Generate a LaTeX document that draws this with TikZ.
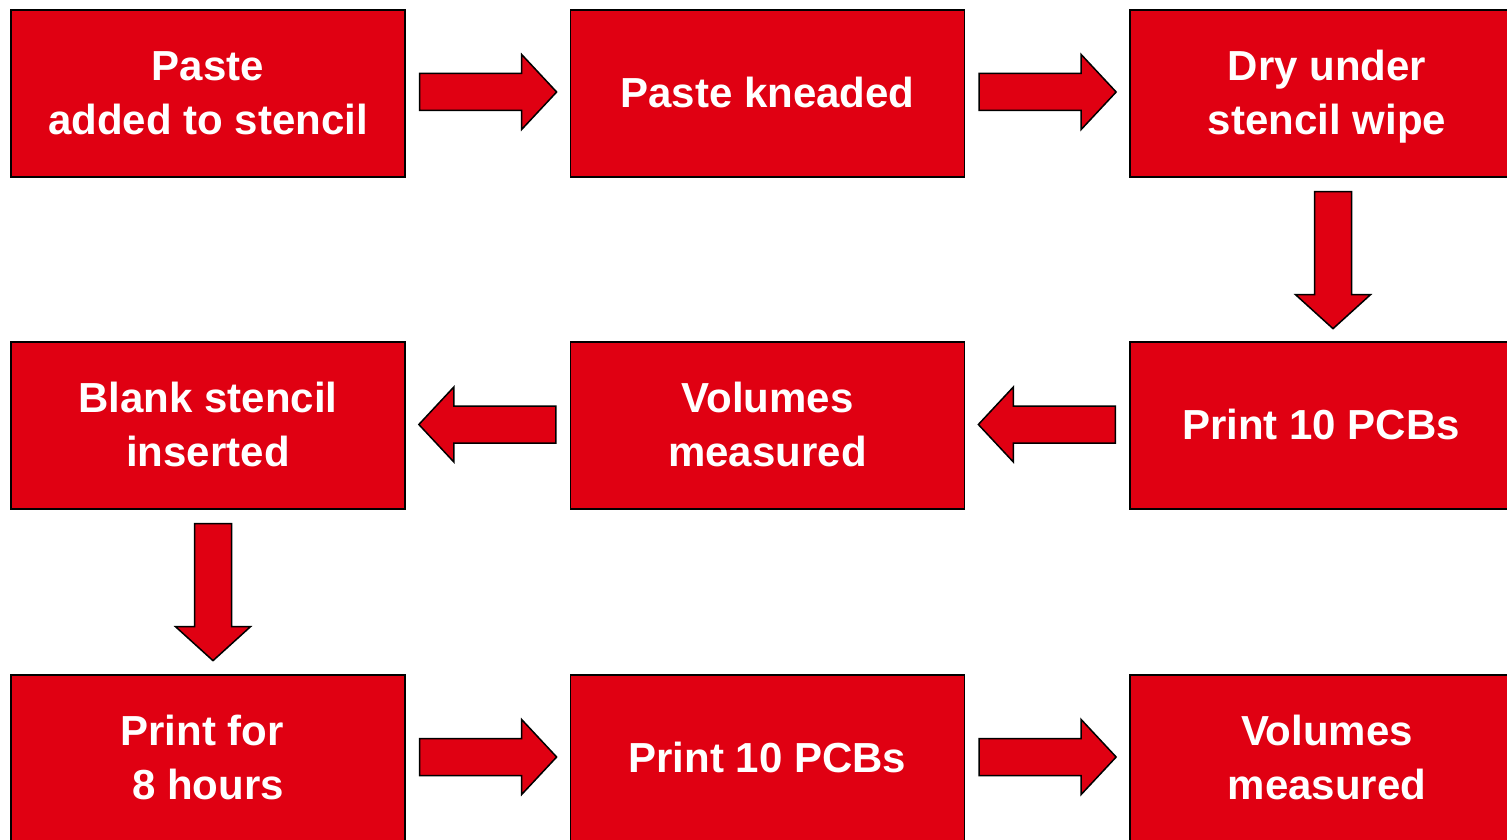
\documentclass[tikz,border=0pt]{standalone}
\usepackage{fontspec}
\setmainfont{Liberation Sans}
\usetikzlibrary{calc}
\definecolor{boxred}{RGB}{224,0,18}
\tikzset{
  stepbox/.style={draw=black, line width=1.3pt, fill=boxred, minimum width=394pt, minimum height=167pt,
    inner sep=0pt, text=white, align=center,
    font=\fontsize{42pt}{54pt}\selectfont\bfseries},
  blockarrow/.style={draw=black, line width=1.5pt, fill=boxred, line join=miter}
}
\newcommand\trailsp{\kern11.7pt}
\newcommand\fs{\rule[-16.2pt]{0pt}{60pt}}
% right arrow starting at a coordinate (west end, centre line)
\newcommand\RArr[1]{\draw[blockarrow] ($#1+(0,-18.5)$) -- ++(102,0) -- ++(0,-19) -- ($#1+(137,0)$) -- ($#1+(102,37.5)$) -- ++(0,-19) -- ($#1+(0,18.5)$) -- cycle;}
\newcommand\LArr[1]{\draw[blockarrow] ($#1+(0,-18.5)$) -- ++(-102,0) -- ++(0,-19) -- ($#1+(-137,0)$) -- ($#1+(-102,37.5)$) -- ++(0,-19) -- ($#1+(0,18.5)$) -- cycle;}
\newcommand\DArr[1]{\draw[blockarrow] ($#1+(-18.5,0)$) -- ++(0,103) -- ++(-19,0) -- ($#1+(0,137)$) -- ($#1+(37.5,103)$) -- ++(-19,0) -- ($#1+(18.5,0)$) -- cycle;}
\begin{document}
\begin{tikzpicture}[x=1pt,y=-1pt]
\clip (0,0) rectangle (1507,840);
\fill[white] (0,0) rectangle (1507,840);
\node[stepbox] (a1) at (208,93.5) {\fs Paste\\\strut added to stencil};
\node[stepbox] (a2) at (767.5,93.5) {\fs Paste kneaded};
\node[stepbox] (a3) at (1327,93.5) {\fs Dry under\\\strut stencil wipe};
\node[stepbox] (b3) at (1327,425.5) {\fs Print 10 PCBs\trailsp};
\node[stepbox] (b2) at (767.5,425.5) {\fs Volumes\\\strut measured};
\node[stepbox] (b1) at (208,425.5) {\fs Blank stencil\\\strut inserted};
\node[stepbox] (c1) at (208,758.5) {\fs Print for\trailsp\\\strut 8 hours};
\node[stepbox] (c2) at (767.5,758.5) {\fs Print 10 PCBs};
\node[stepbox] (c3) at (1327,758.5) {\fs Volumes\\\strut measured};
\coordinate (r1) at ($(a1.east)+(14,-1.5)$);
\coordinate (r2) at ($(a2.east)+(14,-1.5)$);
\coordinate (d1) at ($(a3.south)+(6,14)$);
\coordinate (l1) at ($(b3.west)+(-14,-1)$);
\coordinate (l2) at ($(b2.west)+(-14,-1)$);
\coordinate (d2) at ($(b1.south)+(5,14)$);
\coordinate (r3) at ($(c1.east)+(14,-1.5)$);
\coordinate (r4) at ($(c2.east)+(14,-1.5)$);
\RArr{(r1)}
\RArr{(r2)}
\DArr{(d1)}
\LArr{(l1)}
\LArr{(l2)}
\DArr{(d2)}
\RArr{(r3)}
\RArr{(r4)}
\end{tikzpicture}
\end{document}
